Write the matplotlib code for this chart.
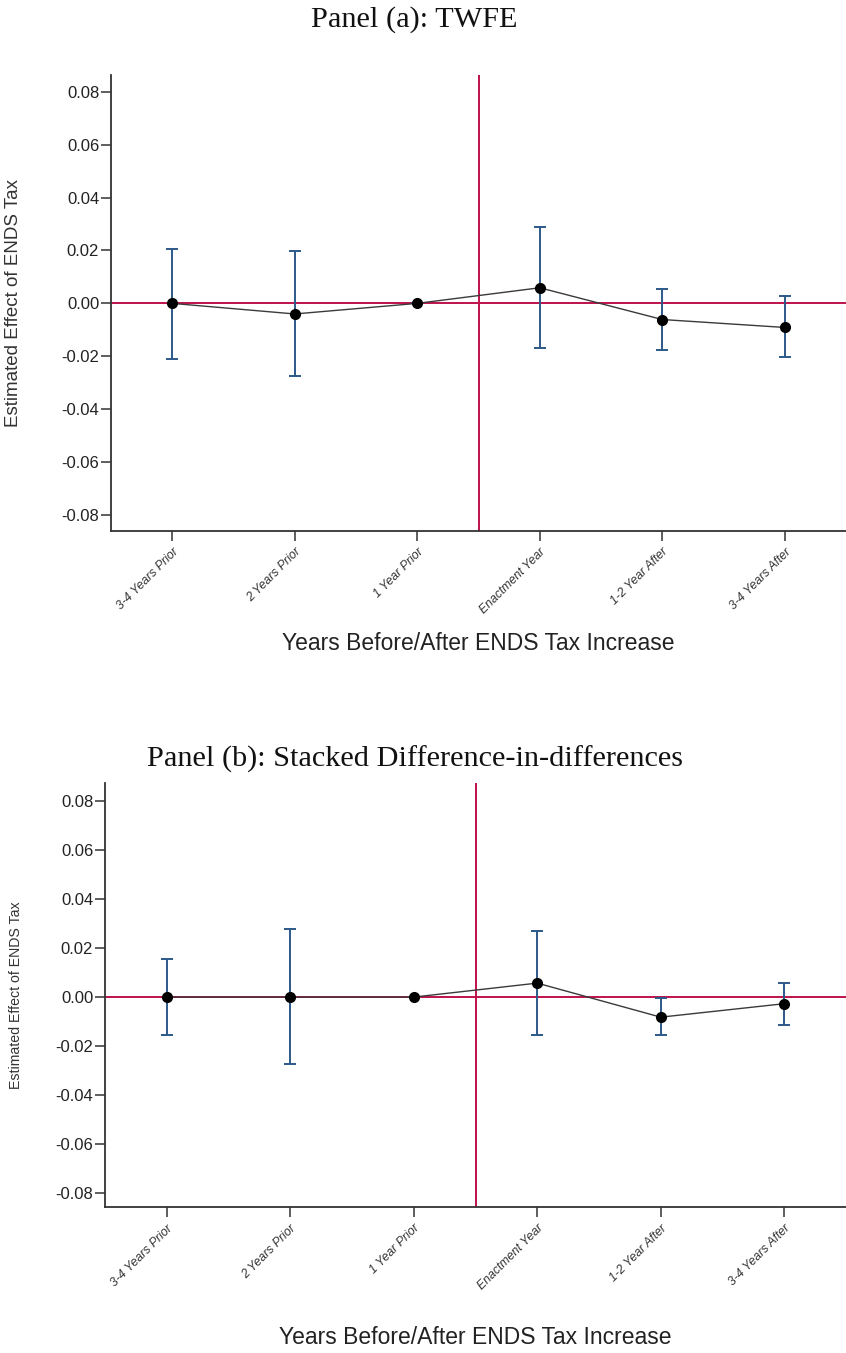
import matplotlib
matplotlib.use("Agg")
import matplotlib.pyplot as plt

categories = ["3-4 Years Prior", "2 Years Prior", "1 Year Prior",
              "Enactment Year", "1-2 Year After", "3-4 Years After"]

# Panel (a): TWFE
a_est = [0.0000, -0.0040, 0.0000, 0.0059, -0.0061, -0.0091]
a_lo = [-0.0209, -0.0275, 0.0000, -0.0170, -0.0177, -0.0202]
a_hi = [0.0204, 0.0197, 0.0000, 0.0289, 0.0053, 0.0027]

# Panel (b): Stacked DiD
b_est = [0.0000, 0.0000, 0.0000, 0.0057, -0.0082, -0.0027]
b_lo = [-0.0154, -0.0275, 0.0000, -0.0154, -0.0154, -0.0112]
b_hi = [0.0157, 0.0279, 0.0000, 0.0271, -0.0003, 0.0059]

yticks = [0.08, 0.06, 0.04, 0.02, 0.00, -0.02, -0.04, -0.06, -0.08]

SANS = "Liberation Sans"
SERIF = "Liberation Serif"
RED = "#c0114b"
BLUE = "#2b5988"

W, H = 846, 1353
fig = plt.figure(figsize=(W / 100, H / 100), dpi=100)


def panel(left_px, top_px, bottom_px, ylim, est, lo, hi, title, title_base_px,
          ylab_size, ylab_center_px, xlab_px):
    rect = [left_px / W, 1 - bottom_px / H, 1 - left_px / W, (bottom_px - top_px) / H]
    ax = fig.add_axes(rect)
    x = list(range(len(categories)))
    yerr = [[e - l for e, l in zip(est, lo)], [h - e for e, h in zip(est, hi)]]
    ax.axhline(0, color=RED, lw=1.4, zorder=1)
    ax.axvline(2.5, color=RED, lw=1.4, zorder=1)
    ax.errorbar(x, est, yerr=yerr, fmt="none", ecolor=BLUE, elinewidth=1.4,
                capsize=4, capthick=1.4, zorder=2)
    ax.plot(x, est, color="#3a3a3a", lw=1.0, zorder=3)
    ax.plot(x, est, "o", color="black", ms=7, zorder=4)
    ax.set_xlim(-0.5, 5.5)
    ax.set_ylim(*ylim)
    ax.set_yticks(yticks)
    ax.set_yticklabels([f"{v:.2f}" for v in yticks], fontfamily=SANS, fontsize=12,
                       color="#222222")
    ax.set_xticks(x)
    ax.set_xticklabels(categories, rotation=45, ha="right", rotation_mode="anchor",
                       fontfamily=SANS, fontsize=8.8, style="italic", color="#333333")
    for s in ["top", "right"]:
        ax.spines[s].set_visible(False)
    for s in ["left", "bottom"]:
        ax.spines[s].set_color("#333333")
        ax.spines[s].set_linewidth(1.3)
    ax.tick_params(axis="y", direction="out", length=7, width=1.1, color="#333333", pad=1.5)
    ax.tick_params(axis="x", direction="out", length=7, width=1.1, color="#333333", pad=4)
    # y label placed by its centre line
    fig.text(ylab_center_px / W, 1 - (top_px + bottom_px) / 2 / H,
             "Estimated Effect of ENDS Tax", rotation=90, ha="center", va="center",
             fontfamily=SANS, fontsize=ylab_size, color="#333333")
    fig.text(0.49, 1 - title_base_px / H, title, ha="center", va="baseline",
             fontfamily=SERIF, fontsize=21.8, color="#111111")
    fig.text((left_px + W) / 2 / W, 1 - xlab_px / H,
             "Years Before/After ENDS Tax Increase", ha="center",
             va="center", fontfamily=SANS, fontsize=16.5, color="#222222")
    return ax


panel(111, 75, 530.7, (-0.0859, 0.0863), a_est, a_lo, a_hi,
      "Panel (a): TWFE", 27, 13.5, 14, 643)
panel(105, 783, 1207, (-0.0857, 0.0874), b_est, b_lo, b_hi,
      "Panel (b): Stacked Difference-in-differences", 767, 10.2, 16, 1337)

fig.savefig("out.png", dpi=100)
